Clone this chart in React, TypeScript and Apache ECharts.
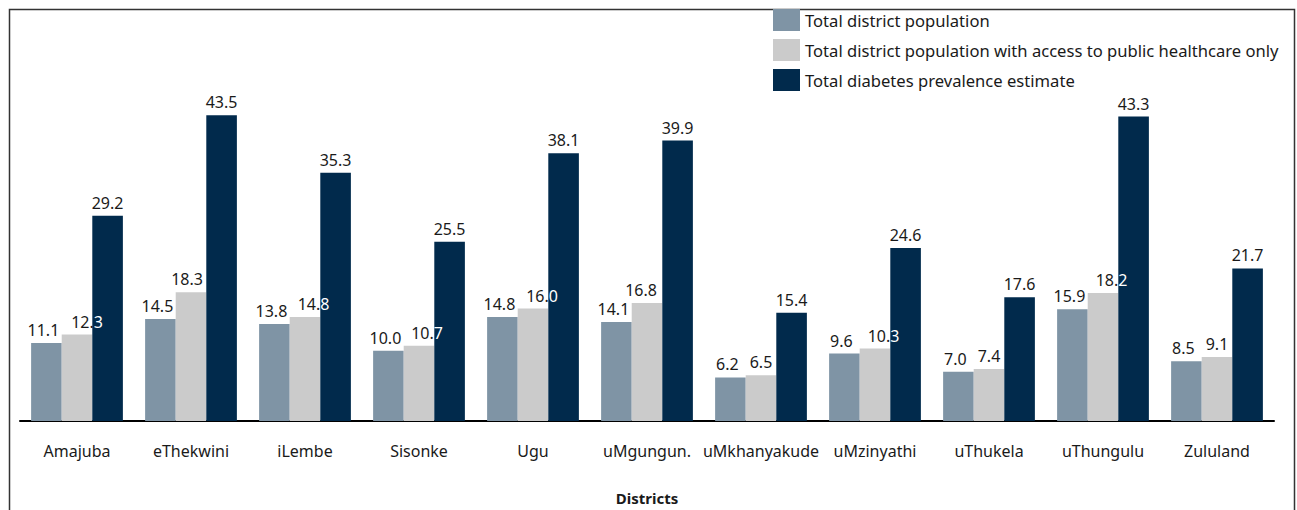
import React, { useEffect, useRef } from "react";
import * as echarts from "echarts";

const categories = ["Amajuba", "eThekwini", "iLembe", "Sisonke", "Ugu", "uMgungun.", "uMkhanyakude", "uMzinyathi", "uThukela", "uThungulu", "Zululand"];
const seriesNames = [
  "Total district population",
  "Total district population with access to public healthcare only",
  "Total diabetes prevalence estimate",
];
const totalPopulation = [11.1, 14.5, 13.8, 10.0, 14.8, 14.1, 6.2, 9.6, 7.0, 15.9, 8.5];
const publicHealthcare = [12.3, 18.3, 14.8, 10.7, 16.0, 16.8, 6.5, 10.3, 7.4, 18.2, 9.1];
const diabetesPrevalence = [29.2, 43.5, 35.3, 25.5, 38.1, 39.9, 15.4, 24.6, 17.6, 43.3, 21.7];

// label horizontal shifts of the second series (layout only)
const grayLabelShift = [10, -4, 8.5, 8, 9, -6, 0, 8.5, 0, 8.5, 0];

const FONT = "Noto Sans";
const TEXT = "#1a1a1a";

export default function App() {
  const ref = useRef<HTMLDivElement>(null);
  useEffect(() => {
    document.body.style.margin = "0";
    const chart = echarts.init(ref.current!, null, { renderer: "svg" });
    const fmt = (v: number) => v.toFixed(1);
    chart.setOption({
      animation: false,
      textStyle: { fontFamily: FONT },
      graphic: [
        {
          type: "rect",
          shape: { x: 9.5, y: 9.5, width: 1285, height: 520 },
          style: { fill: "none", stroke: "#333", lineWidth: 1.5 },
          silent: true,
        },
      ],
      legend: {
        orient: "vertical",
        left: 768,
        top: 4,
        align: "left",
        icon: "rect",
        itemWidth: 27,
        itemHeight: 22,
        itemGap: 8,
        textStyle: { fontSize: 16.6, color: TEXT, fontFamily: FONT },
        data: seriesNames,
      },
      grid: { left: 20, right: 23, top: 69.5, bottom: 83, containLabel: false },
      xAxis: {
        type: "category",
        data: categories,
        axisLine: { lineStyle: { color: "#000", width: 2 } },
        axisTick: { show: false },
        axisLabel: { fontSize: 16, color: TEXT, margin: 22, interval: 0, fontFamily: FONT },
        name: "Districts",
        nameLocation: "middle",
        nameGap: 69,
        nameTextStyle: { fontSize: 15, fontWeight: "bold", color: TEXT, fontFamily: FONT },
      },
      yAxis: {
        type: "value",
        min: 0,
        max: 50,
        show: false,
        splitLine: { show: false },
      },
      series: [
        {
          name: seriesNames[0],
          type: "bar",
          data: totalPopulation,
          barGap: "0%",
          barCategoryGap: "19.5%",
          itemStyle: { color: "#7f94a5" },
          label: {
            show: true,
            position: "top",
            offset: [-3, 0],
            fontSize: 16,
            color: TEXT,
            fontFamily: FONT,
            formatter: (p: any) => fmt(p.value),
          },
          z: 2,
        },
        {
          name: seriesNames[1],
          type: "bar",
          data: publicHealthcare.map((v, i) => ({
            value: v,
            label: { offset: [grayLabelShift[i], 0] },
          })),
          barGap: "0%",
          barCategoryGap: "19.5%",
          itemStyle: { color: "#cbcbcb" },
          label: {
            show: true,
            position: "top",
            fontSize: 16,
            color: TEXT,
            fontFamily: FONT,
            formatter: (p: any) => {
              const s = fmt(p.value);
              if (grayLabelShift[p.dataIndex] > 5) {
                return "{k|" + s.slice(0, -1) + "}{w|" + s.slice(-1) + "}";
              }
              return "{k|" + s + "}";
            },
            rich: {
              k: { fontSize: 16, color: TEXT, fontFamily: FONT },
              w: { fontSize: 16, color: "#ffffff", fontFamily: FONT },
            },
          },
          z: 2,
        },
        {
          name: seriesNames[2],
          type: "bar",
          data: diabetesPrevalence,
          barGap: "0%",
          barCategoryGap: "19.5%",
          itemStyle: { color: "#012a4c" },
          label: {
            show: true,
            position: "top",
            fontSize: 16,
            color: TEXT,
            fontFamily: FONT,
            formatter: (p: any) => fmt(p.value),
          },
          z: 2,
        },
      ],
    });
    return () => chart.dispose();
  }, []);
  return <div ref={ref} style={{ width: 1297, height: 510 }} />;
}
